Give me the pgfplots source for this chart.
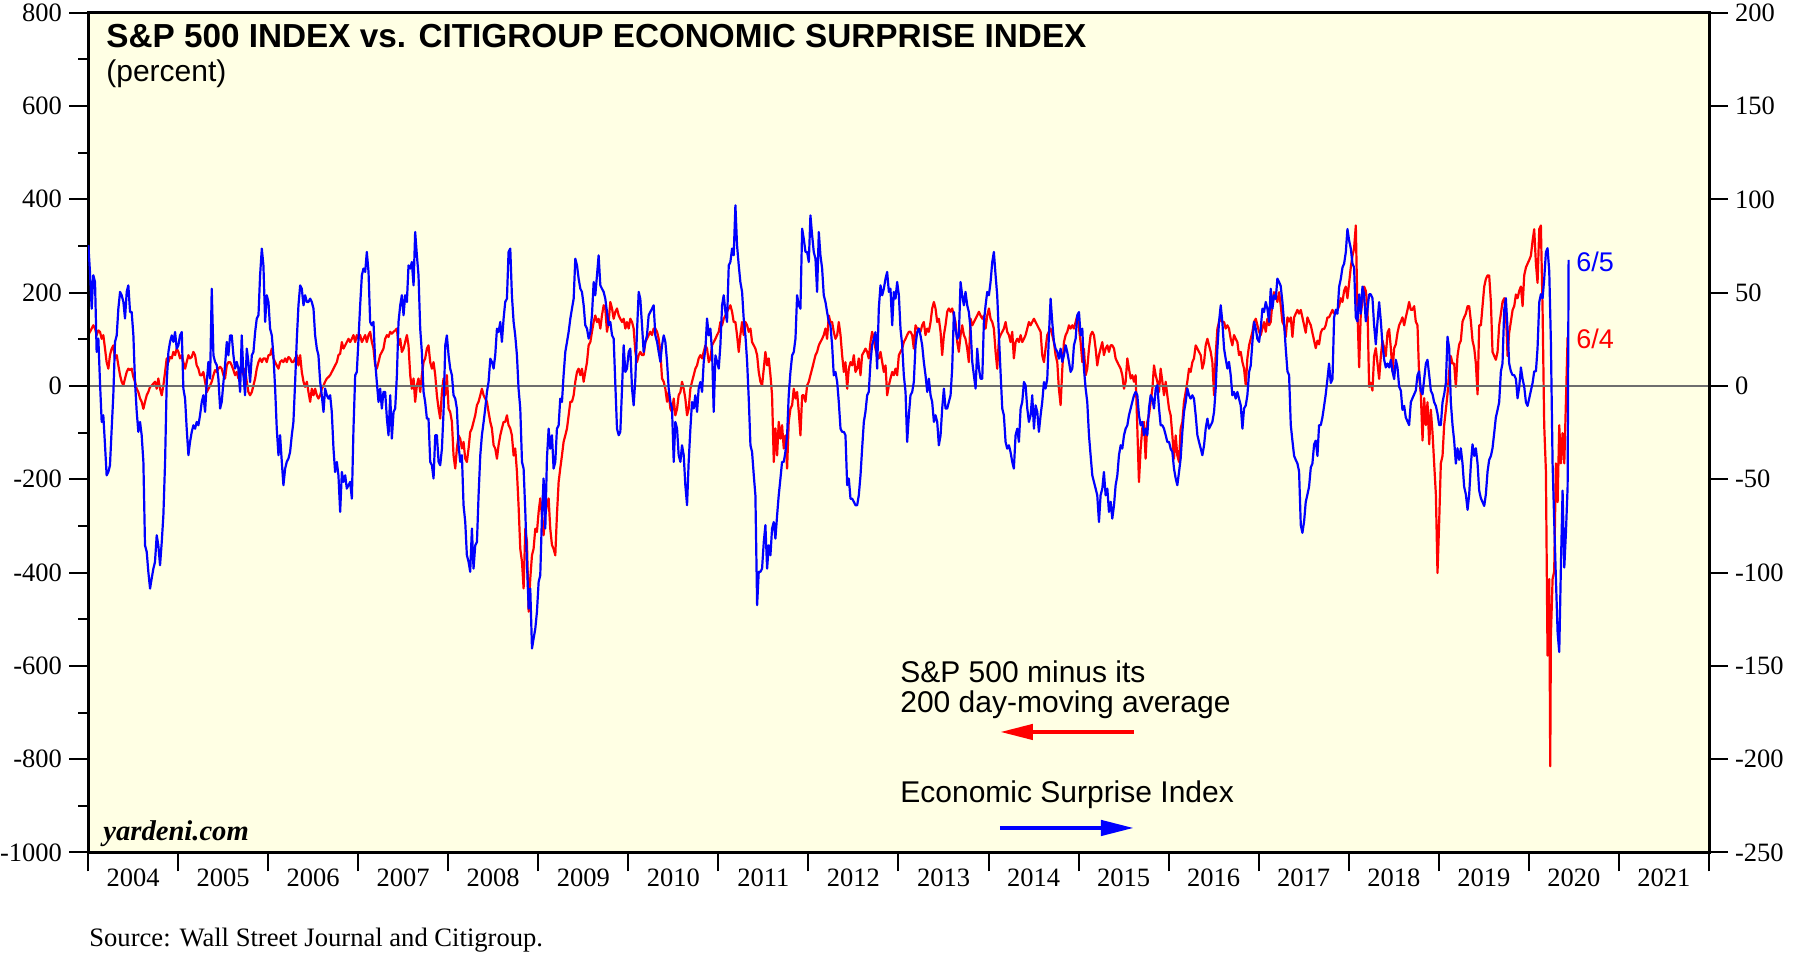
\documentclass[border=0pt]{standalone}
\usepackage{fontspec}
\setmainfont{Liberation Serif}
\newfontfamily\hsans{Liberation Sans}
\usepackage{pgfplots}
\usepackage{pgfplotstable}
\pgfplotsset{compat=1.18}
\usetikzlibrary{arrows.meta}
\definecolor{cream}{RGB}{255,255,228}
\definecolor{zgray}{RGB}{110,110,110}

% S&P 500 minus its 200-day moving average (points, left axis)
\pgfplotstableread[row sep=\\]{t v\\
2004.004 109\\2004.022 116\\2004.041 123\\2004.059 130\\2004.078 123\\2004.096 109\\2004.115 119\\2004.133 116\\2004.152 101\\2004.170 109\\2004.189 80\\2004.207 51\\2004.226 37\\2004.244 66\\2004.263 80\\2004.281 87\\2004.300 59\\2004.319 66\\2004.337 44\\2004.356 23\\2004.374 9\\2004.393 1\\2004.411 16\\2004.430 30\\2004.448 37\\2004.467 34\\2004.485 37\\2004.504 19\\2004.522 9\\2004.541 -6\\2004.559 -13\\2004.578 -27\\2004.596 -34\\2004.615 -49\\2004.633 -34\\2004.652 -20\\2004.670 -13\\2004.689 -2\\2004.707 1\\2004.726 5\\2004.744 9\\2004.763 -6\\2004.781 16\\2004.800 -6\\2004.819 -20\\2004.837 1\\2004.856 30\\2004.874 59\\2004.893 51\\2004.911 62\\2004.930 59\\2004.948 73\\2004.967 66\\2004.985 80\\
2005.004 73\\2005.022 59\\2005.041 66\\2005.059 51\\2005.078 37\\2005.096 51\\2005.115 66\\2005.133 59\\2005.152 62\\2005.170 73\\2005.189 66\\2005.207 44\\2005.226 37\\2005.244 23\\2005.263 23\\2005.281 30\\2005.300 9\\2005.319 -13\\2005.337 -6\\2005.356 1\\2005.374 9\\2005.393 23\\2005.411 34\\2005.430 30\\2005.448 37\\2005.467 41\\2005.485 37\\2005.504 23\\2005.522 16\\2005.541 44\\2005.559 51\\2005.578 51\\2005.596 44\\2005.615 34\\2005.633 23\\2005.652 30\\2005.670 16\\2005.689 23\\2005.707 44\\2005.726 23\\2005.744 37\\2005.763 9\\2005.781 -13\\2005.800 -20\\2005.819 -13\\2005.837 1\\2005.856 16\\2005.874 37\\2005.893 51\\2005.911 59\\2005.930 51\\2005.948 59\\2005.967 59\\2005.985 51\\
2006.004 66\\2006.022 66\\2006.041 80\\2006.059 59\\2006.078 51\\2006.096 44\\2006.115 37\\2006.133 51\\2006.152 55\\2006.170 51\\2006.189 59\\2006.207 51\\2006.226 62\\2006.244 59\\2006.263 51\\2006.281 51\\2006.300 59\\2006.319 66\\2006.337 44\\2006.356 66\\2006.374 30\\2006.393 9\\2006.411 -2\\2006.430 9\\2006.448 -13\\2006.467 -34\\2006.485 -6\\2006.504 -20\\2006.522 -6\\2006.541 -20\\2006.559 -27\\2006.578 -20\\2006.596 -6\\2006.615 1\\2006.633 9\\2006.652 16\\2006.670 19\\2006.689 23\\2006.707 30\\2006.726 37\\2006.744 44\\2006.763 51\\2006.781 66\\2006.800 69\\2006.819 94\\2006.837 80\\2006.856 87\\2006.874 94\\2006.893 101\\2006.911 94\\2006.930 101\\2006.948 109\\2006.967 94\\2006.985 109\\
2007.004 101\\2007.022 109\\2007.041 94\\2007.059 101\\2007.078 109\\2007.096 94\\2007.115 109\\2007.133 116\\2007.152 94\\2007.170 80\\2007.189 44\\2007.207 37\\2007.226 51\\2007.244 66\\2007.263 73\\2007.281 80\\2007.300 101\\2007.319 109\\2007.337 105\\2007.356 116\\2007.374 112\\2007.393 116\\2007.411 119\\2007.430 123\\2007.448 87\\2007.467 101\\2007.485 73\\2007.504 80\\2007.522 94\\2007.541 109\\2007.559 87\\2007.578 23\\2007.596 -6\\2007.615 16\\2007.633 -34\\2007.652 1\\2007.670 16\\2007.689 -13\\2007.707 23\\2007.726 51\\2007.744 59\\2007.763 80\\2007.781 87\\2007.800 51\\2007.819 37\\2007.837 51\\2007.856 23\\2007.874 -20\\2007.893 -49\\2007.911 -70\\2007.930 -13\\2007.948 16\\2007.967 -20\\2007.985 23\\
2008.004 -49\\2008.022 -56\\2008.041 -77\\2008.059 -149\\2008.078 -177\\2008.096 -134\\2008.115 -106\\2008.133 -113\\2008.152 -134\\2008.170 -120\\2008.189 -156\\2008.207 -163\\2008.226 -134\\2008.244 -99\\2008.263 -91\\2008.281 -77\\2008.300 -63\\2008.319 -41\\2008.337 -34\\2008.356 -20\\2008.374 -6\\2008.393 -20\\2008.411 -27\\2008.430 -34\\2008.448 -56\\2008.467 -77\\2008.485 -91\\2008.504 -127\\2008.522 -134\\2008.541 -156\\2008.559 -127\\2008.578 -106\\2008.596 -91\\2008.615 -77\\2008.633 -77\\2008.652 -63\\2008.670 -84\\2008.689 -91\\2008.707 -106\\2008.726 -149\\2008.744 -134\\2008.763 -184\\2008.781 -256\\2008.800 -349\\2008.819 -377\\2008.837 -434\\2008.856 -306\\2008.874 -334\\2008.893 -484\\2008.911 -413\\2008.930 -363\\2008.948 -349\\2008.967 -306\\2008.985 -313\\
2009.004 -270\\2009.022 -241\\2009.041 -277\\2009.059 -320\\2009.078 -277\\2009.096 -256\\2009.115 -241\\2009.133 -306\\2009.152 -341\\2009.170 -349\\2009.189 -363\\2009.207 -277\\2009.226 -206\\2009.244 -177\\2009.263 -149\\2009.281 -120\\2009.300 -106\\2009.319 -91\\2009.337 -63\\2009.356 -34\\2009.374 -34\\2009.393 -20\\2009.411 9\\2009.430 30\\2009.448 37\\2009.467 23\\2009.485 37\\2009.504 9\\2009.522 30\\2009.541 51\\2009.559 87\\2009.578 94\\2009.596 116\\2009.615 137\\2009.633 151\\2009.652 137\\2009.670 144\\2009.689 123\\2009.707 151\\2009.726 173\\2009.744 166\\2009.763 116\\2009.781 137\\2009.800 180\\2009.819 166\\2009.837 144\\2009.856 159\\2009.874 166\\2009.893 151\\2009.911 144\\2009.930 137\\2009.948 144\\2009.967 123\\2009.985 137\\
2010.004 123\\2010.022 144\\2010.041 137\\2010.059 123\\2010.078 73\\2010.096 51\\2010.115 66\\2010.133 73\\2010.152 66\\2010.170 66\\2010.189 94\\2010.207 101\\2010.226 109\\2010.244 116\\2010.263 109\\2010.281 123\\2010.300 123\\2010.319 116\\2010.337 101\\2010.356 73\\2010.374 16\\2010.393 9\\2010.411 -6\\2010.430 -34\\2010.448 -13\\2010.467 -49\\2010.485 -56\\2010.504 -27\\2010.522 -63\\2010.541 -49\\2010.559 -20\\2010.578 -13\\2010.596 9\\2010.615 -6\\2010.633 -27\\2010.652 -63\\2010.670 -49\\2010.689 -6\\2010.707 9\\2010.726 23\\2010.744 37\\2010.763 44\\2010.781 59\\2010.800 66\\2010.819 59\\2010.837 73\\2010.856 87\\2010.874 80\\2010.893 51\\2010.911 59\\2010.930 87\\2010.948 94\\2010.967 101\\2010.985 109\\
2011.004 116\\2011.022 137\\2011.041 130\\2011.059 144\\2011.078 151\\2011.096 159\\2011.115 166\\2011.133 173\\2011.152 159\\2011.170 137\\2011.189 137\\2011.207 109\\2011.226 73\\2011.244 109\\2011.263 137\\2011.281 109\\2011.300 137\\2011.319 130\\2011.337 116\\2011.356 123\\2011.374 94\\2011.393 87\\2011.411 80\\2011.430 66\\2011.448 30\\2011.467 9\\2011.485 1\\2011.504 37\\2011.522 73\\2011.541 44\\2011.559 59\\2011.578 23\\2011.596 -20\\2011.615 -163\\2011.633 -91\\2011.652 -149\\2011.670 -77\\2011.689 -113\\2011.707 -84\\2011.726 -134\\2011.744 -106\\2011.763 -177\\2011.781 -77\\2011.800 -49\\2011.819 -41\\2011.837 -6\\2011.856 -27\\2011.874 -13\\2011.893 -56\\2011.911 -106\\2011.930 -20\\2011.948 -20\\2011.967 -34\\2011.985 1\\
2012.004 9\\2012.022 23\\2012.041 37\\2012.059 51\\2012.078 66\\2012.096 73\\2012.115 87\\2012.133 94\\2012.152 101\\2012.170 109\\2012.189 123\\2012.207 101\\2012.226 151\\2012.244 137\\2012.263 137\\2012.281 116\\2012.300 101\\2012.319 109\\2012.337 137\\2012.356 109\\2012.374 66\\2012.393 30\\2012.411 51\\2012.430 -6\\2012.448 37\\2012.467 51\\2012.485 44\\2012.504 66\\2012.522 30\\2012.541 37\\2012.559 59\\2012.578 23\\2012.596 66\\2012.615 73\\2012.633 80\\2012.652 73\\2012.670 59\\2012.689 94\\2012.707 116\\2012.726 101\\2012.744 80\\2012.763 66\\2012.781 59\\2012.800 73\\2012.819 51\\2012.837 30\\2012.856 44\\2012.874 -20\\2012.893 1\\2012.911 16\\2012.930 30\\2012.948 23\\2012.967 37\\2012.985 23\\
2013.004 66\\2013.022 73\\2013.041 80\\2013.059 94\\2013.078 101\\2013.096 109\\2013.115 116\\2013.133 116\\2013.152 109\\2013.170 80\\2013.189 130\\2013.207 123\\2013.226 123\\2013.244 116\\2013.263 130\\2013.281 137\\2013.300 109\\2013.319 123\\2013.337 116\\2013.356 137\\2013.374 166\\2013.393 180\\2013.411 166\\2013.430 137\\2013.448 144\\2013.467 116\\2013.485 66\\2013.504 109\\2013.522 130\\2013.541 159\\2013.559 166\\2013.578 159\\2013.596 166\\2013.615 151\\2013.633 137\\2013.652 94\\2013.670 73\\2013.689 109\\2013.707 130\\2013.726 109\\2013.744 101\\2013.763 80\\2013.781 51\\2013.800 144\\2013.819 130\\2013.837 137\\2013.856 144\\2013.874 151\\2013.893 159\\2013.911 151\\2013.930 144\\2013.948 151\\2013.967 123\\2013.985 151\\
2014.004 166\\2014.022 144\\2014.041 137\\2014.059 123\\2014.078 73\\2014.096 37\\2014.115 101\\2014.133 109\\2014.152 116\\2014.170 123\\2014.189 137\\2014.207 116\\2014.226 109\\2014.244 94\\2014.263 116\\2014.281 59\\2014.300 94\\2014.319 101\\2014.337 94\\2014.356 109\\2014.374 94\\2014.393 101\\2014.411 109\\2014.430 123\\2014.448 137\\2014.467 130\\2014.485 137\\2014.504 144\\2014.522 137\\2014.541 130\\2014.559 123\\2014.578 116\\2014.596 66\\2014.615 51\\2014.633 80\\2014.652 109\\2014.670 116\\2014.689 123\\2014.707 109\\2014.726 94\\2014.744 66\\2014.763 51\\2014.781 -6\\2014.800 -41\\2014.819 37\\2014.837 94\\2014.856 109\\2014.874 116\\2014.893 130\\2014.911 123\\2014.930 130\\2014.948 123\\2014.967 137\\2014.985 151\\
2015.004 123\\2015.022 94\\2015.041 51\\2015.059 80\\2015.078 23\\2015.096 37\\2015.115 80\\2015.133 109\\2015.152 116\\2015.170 109\\2015.189 80\\2015.207 44\\2015.226 66\\2015.244 80\\2015.263 94\\2015.281 66\\2015.300 80\\2015.319 87\\2015.337 73\\2015.356 87\\2015.374 87\\2015.393 80\\2015.411 59\\2015.430 51\\2015.448 44\\2015.467 37\\2015.485 23\\2015.504 -6\\2015.522 9\\2015.541 59\\2015.559 37\\2015.578 16\\2015.596 23\\2015.615 9\\2015.633 23\\2015.652 -91\\2015.670 -206\\2015.689 -134\\2015.707 -91\\2015.726 -77\\2015.744 -156\\2015.763 -77\\2015.781 -63\\2015.800 -34\\2015.819 -6\\2015.837 44\\2015.856 23\\2015.874 9\\2015.893 -13\\2015.911 37\\2015.930 9\\2015.948 -20\\2015.967 9\\2015.985 -20\\
2016.004 -49\\2016.022 -63\\2016.041 -106\\2016.059 -156\\2016.078 -106\\2016.096 -149\\2016.115 -163\\2016.133 -91\\2016.152 -77\\2016.170 -34\\2016.189 -13\\2016.207 9\\2016.226 37\\2016.244 30\\2016.263 51\\2016.281 59\\2016.300 87\\2016.319 80\\2016.337 73\\2016.356 66\\2016.374 37\\2016.393 51\\2016.411 87\\2016.430 101\\2016.448 87\\2016.467 73\\2016.485 51\\2016.504 -20\\2016.522 66\\2016.541 123\\2016.559 137\\2016.578 144\\2016.596 137\\2016.615 137\\2016.633 123\\2016.652 130\\2016.670 123\\2016.689 101\\2016.707 87\\2016.726 109\\2016.744 101\\2016.763 94\\2016.781 66\\2016.800 73\\2016.819 51\\2016.837 37\\2016.856 1\\2016.874 59\\2016.893 87\\2016.911 101\\2016.930 116\\2016.948 137\\2016.967 144\\2016.985 130\\
2017.004 116\\2017.022 109\\2017.041 123\\2017.059 137\\2017.078 116\\2017.096 144\\2017.115 130\\2017.133 137\\2017.152 180\\2017.170 201\\2017.189 194\\2017.207 180\\2017.226 201\\2017.244 173\\2017.263 137\\2017.281 130\\2017.300 105\\2017.319 147\\2017.337 138\\2017.356 147\\2017.374 105\\2017.393 147\\2017.411 155\\2017.430 163\\2017.448 155\\2017.467 163\\2017.485 147\\2017.504 130\\2017.522 114\\2017.541 147\\2017.559 138\\2017.578 130\\2017.596 114\\2017.615 97\\2017.633 81\\2017.652 97\\2017.670 89\\2017.689 114\\2017.707 122\\2017.726 122\\2017.744 130\\2017.763 147\\2017.781 147\\2017.800 155\\2017.819 163\\2017.837 155\\2017.856 155\\2017.874 163\\2017.893 171\\2017.911 188\\2017.930 180\\2017.948 204\\2017.967 213\\2017.985 188\\
2018.004 221\\2018.022 254\\2018.041 279\\2018.059 295\\2018.078 344\\2018.096 163\\2018.115 40\\2018.133 155\\2018.152 180\\2018.170 213\\2018.189 204\\2018.207 171\\2018.226 -2\\2018.244 7\\2018.263 -10\\2018.281 64\\2018.300 81\\2018.319 48\\2018.337 15\\2018.356 64\\2018.374 97\\2018.393 81\\2018.411 64\\2018.430 114\\2018.448 122\\2018.467 81\\2018.485 31\\2018.504 81\\2018.522 89\\2018.541 114\\2018.559 130\\2018.578 138\\2018.596 147\\2018.615 130\\2018.633 147\\2018.652 163\\2018.670 180\\2018.689 163\\2018.707 163\\2018.726 171\\2018.744 138\\2018.763 130\\2018.781 23\\2018.800 -18\\2018.819 -117\\2018.837 -26\\2018.856 -84\\2018.874 -35\\2018.893 -125\\2018.911 -51\\2018.930 -101\\2018.948 -166\\2018.967 -232\\2018.985 -401\\
2019.004 -290\\2019.022 -166\\2019.041 -150\\2019.059 -84\\2019.078 -51\\2019.096 -18\\2019.115 31\\2019.133 64\\2019.152 48\\2019.170 48\\2019.189 -2\\2019.207 64\\2019.226 89\\2019.244 97\\2019.263 138\\2019.281 147\\2019.300 155\\2019.319 171\\2019.337 171\\2019.356 138\\2019.374 97\\2019.393 81\\2019.411 48\\2019.430 -18\\2019.448 130\\2019.467 130\\2019.485 171\\2019.504 213\\2019.522 229\\2019.541 237\\2019.559 237\\2019.578 180\\2019.596 73\\2019.615 64\\2019.633 56\\2019.652 73\\2019.670 130\\2019.689 155\\2019.707 180\\2019.726 188\\2019.744 163\\2019.763 64\\2019.781 114\\2019.800 138\\2019.819 163\\2019.837 171\\2019.856 196\\2019.874 188\\2019.893 204\\2019.911 213\\2019.930 171\\2019.948 237\\2019.967 254\\2019.985 262\\
2020.004 270\\2020.022 279\\2020.041 311\\2020.059 336\\2020.078 262\\2020.096 221\\2020.115 336\\2020.133 344\\2020.152 163\\2020.170 -84\\2020.189 -183\\2020.207 -578\\2020.226 -414\\2020.237 -815\\2020.244 -537\\2020.263 -414\\2020.281 -397\\2020.300 -166\\2020.319 -249\\2020.337 -84\\2020.356 -166\\2020.374 -101\\2020.393 -166\\2020.411 -35\\2020.430 105\\
}\redtab

% Citigroup Economic Surprise Index (right axis)
\pgfplotstableread[row sep=\\]{t w\\
2004.004 75.4\\2004.022 61\\2004.041 41.4\\2004.059 59.3\\2004.078 55.7\\2004.096 18.2\\2004.115 25.4\\2004.133 2.1\\2004.152 -19.3\\2004.170 -15.7\\2004.189 -31.8\\2004.207 -47.9\\2004.226 -46.1\\2004.244 -42.5\\2004.263 -22.9\\2004.281 -5\\2004.300 23.6\\2004.319 27.1\\2004.337 41.4\\2004.356 50.4\\2004.374 48.6\\2004.393 45\\2004.411 36.1\\2004.430 50.4\\2004.448 53.9\\2004.467 39.6\\2004.485 39.6\\2004.504 27.1\\2004.522 2.1\\2004.541 -13.9\\2004.559 -24.6\\2004.578 -19.3\\2004.596 -26.4\\2004.615 -40.7\\2004.633 -85.4\\2004.652 -88.9\\2004.670 -99.6\\2004.689 -108.6\\2004.707 -103.2\\2004.726 -97.9\\2004.744 -94.3\\2004.763 -80\\2004.781 -85.4\\2004.800 -96.1\\2004.819 -83.6\\2004.837 -69.3\\2004.856 -40.7\\2004.874 2.1\\2004.893 18.2\\2004.911 23.6\\2004.930 27.1\\2004.948 23.6\\2004.967 28.9\\2004.985 20\\
2005.004 21.8\\2005.022 27.1\\2005.041 28.9\\2005.059 -1.4\\2005.078 -6.8\\2005.096 -22.9\\2005.115 -37.1\\2005.133 -30\\2005.152 -24.6\\2005.170 -21.1\\2005.189 -22.9\\2005.207 -19.3\\2005.226 -21.1\\2005.244 -15.7\\2005.263 -8.6\\2005.281 -5\\2005.300 -13.9\\2005.319 2.1\\2005.337 12.9\\2005.356 3.9\\2005.374 52.1\\2005.393 16.4\\2005.411 12.9\\2005.430 11.1\\2005.448 3.9\\2005.467 -12.1\\2005.485 -8.6\\2005.504 2.1\\2005.522 11.1\\2005.541 23.6\\2005.559 16.4\\2005.578 27.1\\2005.596 27.1\\2005.615 16.4\\2005.633 9.3\\2005.652 12.9\\2005.670 9.3\\2005.689 -3.2\\2005.707 27.1\\2005.726 5.7\\2005.744 -5\\2005.763 20\\2005.781 12.9\\2005.800 2.1\\2005.819 16.4\\2005.837 18.2\\2005.856 28.9\\2005.874 36.1\\2005.893 37.9\\2005.911 59.3\\2005.930 73.6\\2005.948 64.6\\2005.967 34.3\\2005.985 48.6\\
2006.004 45\\2006.022 30.7\\2006.041 27.1\\2006.059 16.4\\2006.078 -1.4\\2006.096 -22.9\\2006.115 -37.1\\2006.133 -26.4\\2006.152 -40.7\\2006.170 -53.2\\2006.189 -44.3\\2006.207 -40.7\\2006.226 -38.9\\2006.244 -35.4\\2006.263 -26.4\\2006.281 -19.3\\2006.300 2.1\\2006.319 25.4\\2006.337 43.2\\2006.356 53.9\\2006.374 52.1\\2006.393 43.2\\2006.411 48.6\\2006.430 45\\2006.448 45\\2006.467 46.8\\2006.485 45\\2006.504 41.4\\2006.522 27.1\\2006.541 20\\2006.559 16.4\\2006.578 2.1\\2006.596 -5\\2006.615 -13.9\\2006.633 -1.4\\2006.652 -5\\2006.670 -6.8\\2006.689 -5\\2006.707 -13.9\\2006.726 -33.6\\2006.744 -46.1\\2006.763 -40.7\\2006.781 -47.9\\2006.800 -67.5\\2006.819 -46.1\\2006.837 -51.4\\2006.856 -47.9\\2006.874 -55\\2006.893 -53.2\\2006.911 -51.4\\2006.930 -60.4\\2006.948 -22.9\\2006.967 5.7\\2006.985 7.5\\
2007.004 25.4\\2007.022 43.2\\2007.041 59.3\\2007.059 62.9\\2007.078 61.1\\2007.096 71.8\\2007.115 61.1\\2007.133 34.3\\2007.152 32.5\\2007.170 34.3\\2007.189 12.9\\2007.207 2.1\\2007.226 -8.6\\2007.244 -1.4\\2007.263 -12.1\\2007.281 -3.2\\2007.300 -3.2\\2007.319 -17.5\\2007.337 -26.4\\2007.356 -5\\2007.374 -28.2\\2007.393 -13.9\\2007.411 -12.1\\2007.430 5.7\\2007.448 34.3\\2007.467 43.2\\2007.485 48.6\\2007.504 37.9\\2007.522 48.6\\2007.541 45\\2007.559 64.6\\2007.578 62.9\\2007.596 66.4\\2007.615 53.9\\2007.633 82.5\\2007.652 70\\2007.670 59.3\\2007.689 30.7\\2007.707 18.2\\2007.726 -3.2\\2007.744 -8.6\\2007.763 -17.5\\2007.781 -17.5\\2007.800 -40.7\\2007.819 -42.5\\2007.837 -49.6\\2007.856 -26.4\\2007.874 -26.4\\2007.893 -40.7\\2007.911 -42.5\\2007.930 -33.6\\2007.948 -13.9\\2007.967 21.8\\2007.985 27.1\\
2008.004 16.4\\2008.022 9.3\\2008.041 5.7\\2008.059 -5\\2008.078 -6.8\\2008.096 -12.1\\2008.115 -31.8\\2008.133 -40.7\\2008.152 -37.1\\2008.170 -63.9\\2008.189 -72.9\\2008.207 -90.7\\2008.226 -94.3\\2008.244 -99.6\\2008.263 -76.4\\2008.281 -97.9\\2008.300 -85.4\\2008.319 -83.6\\2008.337 -58.6\\2008.356 -37.1\\2008.374 -26.4\\2008.393 -19.3\\2008.411 -12.1\\2008.430 -3.2\\2008.448 2.1\\2008.467 14.6\\2008.485 12.9\\2008.504 9.3\\2008.522 16.4\\2008.541 30.7\\2008.559 28.9\\2008.578 34.3\\2008.596 23.6\\2008.615 36.1\\2008.633 45\\2008.652 46.8\\2008.670 71.8\\2008.689 73.6\\2008.707 48.6\\2008.726 34.3\\2008.744 27.1\\2008.763 16.4\\2008.781 -1.4\\2008.800 -12.1\\2008.819 -40.7\\2008.837 -44.3\\2008.856 -67.5\\2008.874 -94.3\\2008.893 -119.3\\2008.911 -108.6\\2008.930 -140.7\\2008.948 -135.4\\2008.967 -130\\2008.985 -121.1\\
2009.004 -105\\2009.022 -101.4\\2009.041 -69.3\\2009.059 -49.6\\2009.078 -76.4\\2009.096 -38.9\\2009.115 -22.9\\2009.133 -33.6\\2009.152 -26.4\\2009.170 -44.3\\2009.189 -40.7\\2009.207 -22.9\\2009.226 -21.1\\2009.244 -6.8\\2009.263 -8.6\\2009.281 5.7\\2009.300 18.2\\2009.319 23.6\\2009.337 28.9\\2009.356 36.1\\2009.374 41.4\\2009.393 46.8\\2009.411 68.2\\2009.430 64.6\\2009.448 57.5\\2009.467 52.1\\2009.485 50.4\\2009.504 43.2\\2009.522 32.5\\2009.541 30.7\\2009.559 25.4\\2009.578 28.9\\2009.596 37.9\\2009.615 55.7\\2009.633 48.6\\2009.652 59.3\\2009.670 70\\2009.689 53.9\\2009.707 52.1\\2009.726 50.4\\2009.744 46.8\\2009.763 39.6\\2009.781 32.5\\2009.800 34.3\\2009.819 27.1\\2009.837 25.4\\2009.856 0.4\\2009.874 -22.9\\2009.893 -26.4\\2009.911 -24.6\\2009.930 -1.4\\2009.948 21.8\\2009.967 7.5\\2009.985 9.3\\
2010.004 18.2\\2010.022 20\\2010.041 -1.4\\2010.059 -10.4\\2010.078 3.9\\2010.096 28.9\\2010.115 50.4\\2010.133 46.6\\2010.152 32.5\\2010.170 18.2\\2010.189 23.6\\2010.207 27.1\\2010.226 37.9\\2010.244 39.6\\2010.263 41.4\\2010.281 43.2\\2010.300 27.1\\2010.319 23.6\\2010.337 18.2\\2010.356 12.9\\2010.374 21.8\\2010.393 27.1\\2010.411 23.6\\2010.430 12.9\\2010.448 -1.4\\2010.467 -8.6\\2010.485 -12.1\\2010.504 -40.7\\2010.522 -19.3\\2010.541 -22.9\\2010.559 -37.1\\2010.578 -40.7\\2010.596 -31.8\\2010.615 -37.1\\2010.633 -53.2\\2010.652 -63.9\\2010.670 -40.7\\2010.689 -22.9\\2010.707 -8.6\\2010.726 -12.1\\2010.744 -5\\2010.763 -13.9\\2010.781 -1.4\\2010.800 2.1\\2010.819 -3.2\\2010.837 12.9\\2010.856 20\\2010.874 36.1\\2010.893 27.1\\2010.911 30.7\\2010.930 18.2\\2010.948 -13.9\\2010.967 16.4\\2010.985 12.9\\
2011.004 9.3\\2011.022 21.8\\2011.041 43.2\\2011.059 48.6\\2011.078 39.6\\2011.096 34.3\\2011.115 64.6\\2011.133 66.4\\2011.152 73.6\\2011.170 70\\2011.189 96.8\\2011.207 75.4\\2011.226 64.6\\2011.244 55.7\\2011.263 50.4\\2011.281 36.1\\2011.300 27.1\\2011.319 12.9\\2011.337 -6.8\\2011.356 -31.8\\2011.374 -35.4\\2011.393 -47.9\\2011.411 -58.6\\2011.430 -117.5\\2011.448 -99.6\\2011.467 -99.6\\2011.485 -97.9\\2011.504 -83.6\\2011.522 -74.6\\2011.541 -97.9\\2011.559 -85.4\\2011.578 -90.7\\2011.596 -76.4\\2011.615 -72.9\\2011.633 -81.8\\2011.652 -69.3\\2011.670 -58.6\\2011.689 -49.6\\2011.707 -40.7\\2011.726 -40.7\\2011.744 -35.4\\2011.763 -26.4\\2011.781 -5\\2011.800 7.5\\2011.819 16.4\\2011.837 18.2\\2011.856 25.4\\2011.874 48.6\\2011.893 43.2\\2011.911 41.4\\2011.930 84.3\\2011.948 78.9\\2011.967 71.8\\2011.985 71.8\\
2012.004 66.4\\2012.022 91.4\\2012.041 80.7\\2012.059 71.8\\2012.078 68.2\\2012.096 50.4\\2012.115 82.5\\2012.133 70\\2012.152 62.9\\2012.170 48.6\\2012.189 45\\2012.207 39.6\\2012.226 34.3\\2012.244 32.5\\2012.263 21.8\\2012.281 5.7\\2012.300 7.5\\2012.319 2.1\\2012.337 -8.6\\2012.356 -22.9\\2012.374 -24.6\\2012.393 -24.6\\2012.411 -26.4\\2012.430 -53.2\\2012.448 -49.6\\2012.467 -60.4\\2012.485 -60.4\\2012.504 -62.1\\2012.522 -63.9\\2012.541 -63.9\\2012.559 -58.6\\2012.578 -47.9\\2012.596 -33.6\\2012.615 -19.3\\2012.633 -13.9\\2012.652 -5\\2012.670 -3.2\\2012.689 12.9\\2012.707 21.8\\2012.726 25.4\\2012.744 28.8\\2012.763 9.3\\2012.781 41.4\\2012.800 53.9\\2012.819 48.6\\2012.837 52.1\\2012.856 57.5\\2012.874 61.1\\2012.893 50.4\\2012.911 52.1\\2012.930 32.5\\2012.948 50.4\\2012.967 46.8\\2012.985 55.7\\
2013.004 48.6\\2013.022 30.7\\2013.041 21.8\\2013.059 5.7\\2013.078 -3.2\\2013.096 -30\\2013.115 -15.7\\2013.133 -5\\2013.152 -3.2\\2013.170 2.1\\2013.189 21.8\\2013.207 28.8\\2013.226 30.7\\2013.244 27.1\\2013.263 21.8\\2013.281 12.9\\2013.300 5.7\\2013.319 -3.2\\2013.337 3.9\\2013.356 -5\\2013.374 -8.6\\2013.393 -19.3\\2013.411 -15.7\\2013.430 -19.3\\2013.448 -31.8\\2013.467 -26.4\\2013.485 -12.1\\2013.504 -1.4\\2013.522 -12.1\\2013.541 -12.1\\2013.559 -8.6\\2013.578 -5\\2013.596 9.3\\2013.615 39.6\\2013.633 30.7\\2013.652 25.2\\2013.670 26.8\\2013.689 55.7\\2013.707 48.6\\2013.726 43.2\\2013.744 50.4\\2013.763 43.2\\2013.781 39.6\\2013.800 30.7\\2013.819 12.9\\2013.837 5.7\\2013.856 -1.4\\2013.874 20\\2013.893 9.3\\2013.911 3.9\\2013.930 3.9\\2013.948 34.3\\2013.967 43.2\\2013.985 50.4\\
2014.004 48.6\\2014.022 55.7\\2014.041 66.4\\2014.059 71.8\\2014.078 59.3\\2014.096 48.6\\2014.115 27.1\\2014.133 7.5\\2014.152 -12.1\\2014.170 -15.7\\2014.189 -30\\2014.207 -33.6\\2014.226 -31.8\\2014.244 -35.4\\2014.263 -40.7\\2014.281 -44.3\\2014.300 -26.4\\2014.319 -22.9\\2014.337 -30\\2014.356 -12.1\\2014.374 -8.6\\2014.393 2.1\\2014.411 0.4\\2014.430 -12.1\\2014.448 -19.3\\2014.467 -15.7\\2014.485 -5\\2014.504 -22.9\\2014.522 -10.4\\2014.541 -13.9\\2014.559 -24.6\\2014.578 -15.7\\2014.596 -8.6\\2014.615 2.1\\2014.633 -1.4\\2014.652 3.9\\2014.670 27.1\\2014.689 46.8\\2014.707 34.3\\2014.726 23.6\\2014.744 20\\2014.763 18.2\\2014.781 14.6\\2014.800 20\\2014.819 12.9\\2014.837 16.4\\2014.856 21.8\\2014.874 18.2\\2014.893 12.9\\2014.911 7.5\\2014.930 9.3\\2014.948 21.8\\2014.967 25.4\\2014.985 37.9\\
2015.004 39.6\\2015.022 27.1\\2015.041 30.7\\2015.059 9.3\\2015.078 -1.4\\2015.096 -8.6\\2015.115 -26.4\\2015.133 -37.1\\2015.152 -47.9\\2015.170 -51.4\\2015.189 -55\\2015.207 -58.6\\2015.226 -72.9\\2015.244 -58.6\\2015.263 -55\\2015.281 -46.1\\2015.300 -58.6\\2015.319 -55\\2015.337 -67.5\\2015.356 -62.1\\2015.374 -71.1\\2015.393 -63.9\\2015.411 -53.2\\2015.430 -47.9\\2015.448 -37.1\\2015.467 -31.8\\2015.485 -33.6\\2015.504 -26.4\\2015.522 -22.9\\2015.541 -21.1\\2015.559 -15.7\\2015.578 -12.1\\2015.596 -8.6\\2015.615 -5\\2015.633 -3.2\\2015.652 -5\\2015.670 -15.7\\2015.689 -21.1\\2015.707 -19.3\\2015.726 -26.4\\2015.744 -22.9\\2015.763 -26.4\\2015.781 -12.1\\2015.800 -5\\2015.819 -6.8\\2015.837 -12.1\\2015.856 -1.4\\2015.874 0.4\\2015.893 -12.1\\2015.911 -21.1\\2015.930 -21.1\\2015.948 -22.9\\2015.967 -26.4\\2015.985 -30\\
2016.004 -30\\2016.022 -33.6\\2016.041 -35.4\\2016.059 -44.3\\2016.078 -49.6\\2016.096 -53.2\\2016.115 -46.1\\2016.133 -38.9\\2016.152 -24.6\\2016.170 -13.9\\2016.189 -8.6\\2016.207 -1.4\\2016.226 -5\\2016.244 -6.8\\2016.263 -5\\2016.281 -6.8\\2016.300 -15.7\\2016.319 -26.4\\2016.337 -30\\2016.356 -33.6\\2016.374 -37.1\\2016.393 -31.8\\2016.411 -22.9\\2016.430 -17.5\\2016.448 -22.9\\2016.467 -21.1\\2016.485 -19.3\\2016.504 -13.9\\2016.522 -1.4\\2016.541 20\\2016.559 34.3\\2016.578 43.2\\2016.596 34.3\\2016.615 20\\2016.633 14.6\\2016.652 9.3\\2016.670 12.9\\2016.689 5.7\\2016.707 -5\\2016.726 -3.2\\2016.744 -6.8\\2016.763 -3.2\\2016.781 -6.8\\2016.800 -10.4\\2016.819 -22.9\\2016.837 -12.1\\2016.856 -10.4\\2016.874 -5\\2016.893 7.5\\2016.911 10.9\\2016.930 23.6\\2016.948 34.3\\2016.967 30.7\\2016.985 25.2\\
2017.004 23.6\\2017.022 30.7\\2017.041 41.4\\2017.059 39.6\\2017.078 45\\2017.096 41.4\\2017.115 34.3\\2017.133 52.1\\2017.152 41.4\\2017.170 48.6\\2017.189 46.6\\2017.207 57.5\\2017.226 55.7\\2017.244 53.6\\2017.263 45\\2017.281 34.3\\2017.300 20\\2017.319 7.8\\2017.337 5.8\\2017.356 -21\\2017.374 -29.3\\2017.393 -37.5\\2017.411 -39.6\\2017.430 -41.6\\2017.448 -45.8\\2017.467 -74.6\\2017.485 -78.7\\2017.504 -72.5\\2017.522 -62.2\\2017.541 -58.1\\2017.559 -54\\2017.578 -43.7\\2017.596 -41.6\\2017.615 -31.3\\2017.633 -29.3\\2017.652 -37.5\\2017.670 -21\\2017.689 -21\\2017.707 -16.9\\2017.726 -10.7\\2017.744 -4.5\\2017.763 3.7\\2017.781 12\\2017.800 1.6\\2017.819 3.7\\2017.837 36.7\\2017.856 40.8\\2017.874 38.7\\2017.893 53.2\\2017.911 57.3\\2017.930 63.5\\2017.948 65.5\\2017.967 71.7\\2017.985 84.1\\
2018.004 77.9\\2018.022 73.8\\2018.041 65.5\\2018.059 63.5\\2018.078 36.7\\2018.096 34.6\\2018.115 49.1\\2018.133 38.7\\2018.152 53.2\\2018.170 49.1\\2018.189 34.6\\2018.207 40.8\\2018.226 49.1\\2018.244 49.1\\2018.263 47\\2018.281 32.6\\2018.300 22.3\\2018.319 34.6\\2018.337 44.9\\2018.356 34.6\\2018.374 22.3\\2018.393 14\\2018.411 9.9\\2018.430 12\\2018.448 9.9\\2018.467 14\\2018.485 7.8\\2018.504 3.7\\2018.522 14\\2018.541 9.9\\2018.559 -0.4\\2018.578 -2.5\\2018.596 -12.8\\2018.615 -10.7\\2018.633 -16.9\\2018.652 -19\\2018.670 -21\\2018.689 -8.7\\2018.707 -6.6\\2018.726 -4.5\\2018.744 -2.5\\2018.763 5.8\\2018.781 7.8\\2018.800 -2.5\\2018.819 -4.5\\2018.837 3.7\\2018.856 12\\2018.874 14\\2018.893 5.8\\2018.911 -2.5\\2018.930 -4.5\\2018.948 -8.7\\2018.967 -10.7\\2018.985 -14.8\\
2019.004 -21\\2019.022 -21\\2019.041 -8.7\\2019.059 -4.5\\2019.078 1.6\\2019.096 26.4\\2019.115 20.2\\2019.133 -8.7\\2019.152 -21\\2019.170 -29.3\\2019.189 -41.6\\2019.207 -33.4\\2019.226 -39.6\\2019.244 -33.4\\2019.263 -41.6\\2019.281 -54\\2019.300 -58.1\\2019.319 -66.4\\2019.337 -58.1\\2019.356 -41.6\\2019.374 -31.3\\2019.393 -37.5\\2019.411 -33.4\\2019.430 -41.6\\2019.448 -56.1\\2019.467 -60.2\\2019.485 -62.2\\2019.504 -64.3\\2019.522 -58.1\\2019.541 -45.8\\2019.559 -39.6\\2019.578 -37.5\\2019.596 -33.4\\2019.615 -25.1\\2019.633 -16.9\\2019.652 -12.8\\2019.670 -8.7\\2019.689 7.8\\2019.707 12\\2019.726 40.8\\2019.744 47\\2019.763 30.5\\2019.781 12\\2019.800 7.8\\2019.819 5.8\\2019.837 5.8\\2019.856 3.7\\2019.874 -6.6\\2019.893 -0.4\\2019.911 9.9\\2019.930 3.7\\2019.948 -0.4\\2019.967 -8.7\\2019.985 -10.7\\
2020.004 -6.6\\2020.022 -2.5\\2020.041 1.6\\2020.059 7.8\\2020.078 7.8\\2020.096 20.2\\2020.115 44.9\\2020.133 49.1\\2020.152 47\\2020.170 57.3\\2020.189 71.7\\2020.207 73.8\\2020.226 61.4\\2020.244 24.3\\2020.263 -41.6\\2020.281 -72.5\\2020.300 -103.5\\2020.319 -132.3\\2020.337 -142.6\\2020.356 -95.2\\2020.374 -56.1\\2020.393 -97.3\\2020.411 -78.7\\2020.430 -54\\2020.441 67.6\\
}\bluetab

\pgfplotsset{
  framestyle/.style={
    at={(44bp,59.75bp)}, anchor=south west,
    scale only axis, width=810.5bp, height=419.9bp,
    xmin=2004, xmax=2022,
    axis line style={line width=1.5bp, black},
    tick align=outside,
    major tick length=9.5bp, minor tick length=5bp,
    tick style={line width=1bp, black},
    every tick label/.append style={font=\fontsize{13.25bp}{15bp}\selectfont},
  }
}

\begin{document}
\begin{tikzpicture}
\useasboundingbox (0,0) rectangle (897bp,486bp);

\begin{axis}[framestyle,
  ymin=-1000, ymax=800,
  axis background/.style={fill=cream},
  xtick={2004,2005,...,2022},
  x tick label as interval,
  xticklabels={2004,2005,2006,2007,2008,2009,2010,2011,2012,2013,2014,2015,2016,2017,2018,2019,2020,2021},
  xticklabel style={yshift=4.6bp},
  xtick pos=bottom,
  ytick={-1000,-800,...,800},
  yticklabels={-1000,-800,-600,-400,-200,0,200,400,600,800},
  minor y tick num=1,
  ytick pos=left,
]
\addplot[red, line width=1.1bp, line join=round] table[x=t, y=v] {\redtab};
\addplot[zgray, line width=0.8bp] coordinates {(2004,0) (2022,0)};
\end{axis}

\begin{axis}[framestyle,
  ymin=-250, ymax=200,
  hide x axis,
  ytick={-250,-200,...,200},
  yticklabels={-250,-200,-150,-100,-50,0,50,100,150,200},
  ytick pos=right,
]
\addplot[blue, line width=1.1bp, line join=round] table[x=t, y=w] {\bluetab};
\end{axis}

\begin{scope}[x=0.5bp, y=-0.5bp, shift={(0,486bp)}]
\node[anchor=base west, inner sep=0, font=\hsans\bfseries\fontsize{16.65bp}{20bp}\selectfont] at (106,48) {S\&P 500 INDEX vs. CITIGROUP ECONOMIC SURPRISE INDEX};
\node[anchor=base west, inner sep=0, font=\hsans\fontsize{15bp}{18bp}\selectfont] at (106,82) {(percent)};
\node[anchor=base west, inner sep=0, font=\bfseries\itshape\fontsize{14.3bp}{17bp}\selectfont] at (103,841) {yardeni.com};
\node[anchor=base west, inner sep=0, font=\fontsize{13.3bp}{16bp}\selectfont] at (89,947) {Source: Wall Street Journal and Citigroup.};
\node[anchor=base west, inner sep=0, font=\hsans\fontsize{15bp}{18bp}\selectfont] at (900,683) {S\&P 500 minus its};
\node[anchor=base west, inner sep=0, font=\hsans\fontsize{15bp}{18bp}\selectfont] at (900,713) {200 day-moving average};
\node[anchor=base west, inner sep=0, font=\hsans\fontsize{15bp}{18bp}\selectfont] at (900,803) {Economic Surprise Index};
\node[anchor=base west, inner sep=0, text=blue, font=\hsans\fontsize{13.5bp}{16bp}\selectfont] at (1576,272) {6/5};
\node[anchor=base west, inner sep=0, text=red, font=\hsans\fontsize{13.5bp}{16bp}\selectfont] at (1576,349) {6/4};
\draw[red, line width=2.2bp, -{Triangle[length=16.5bp, width=7.5bp]}] (1134,732) -- (1000,732);
\draw[blue, line width=2.2bp, -{Triangle[length=16.5bp, width=7.5bp]}] (1000,828) -- (1134,828);
\end{scope}
\end{tikzpicture}
\end{document}
